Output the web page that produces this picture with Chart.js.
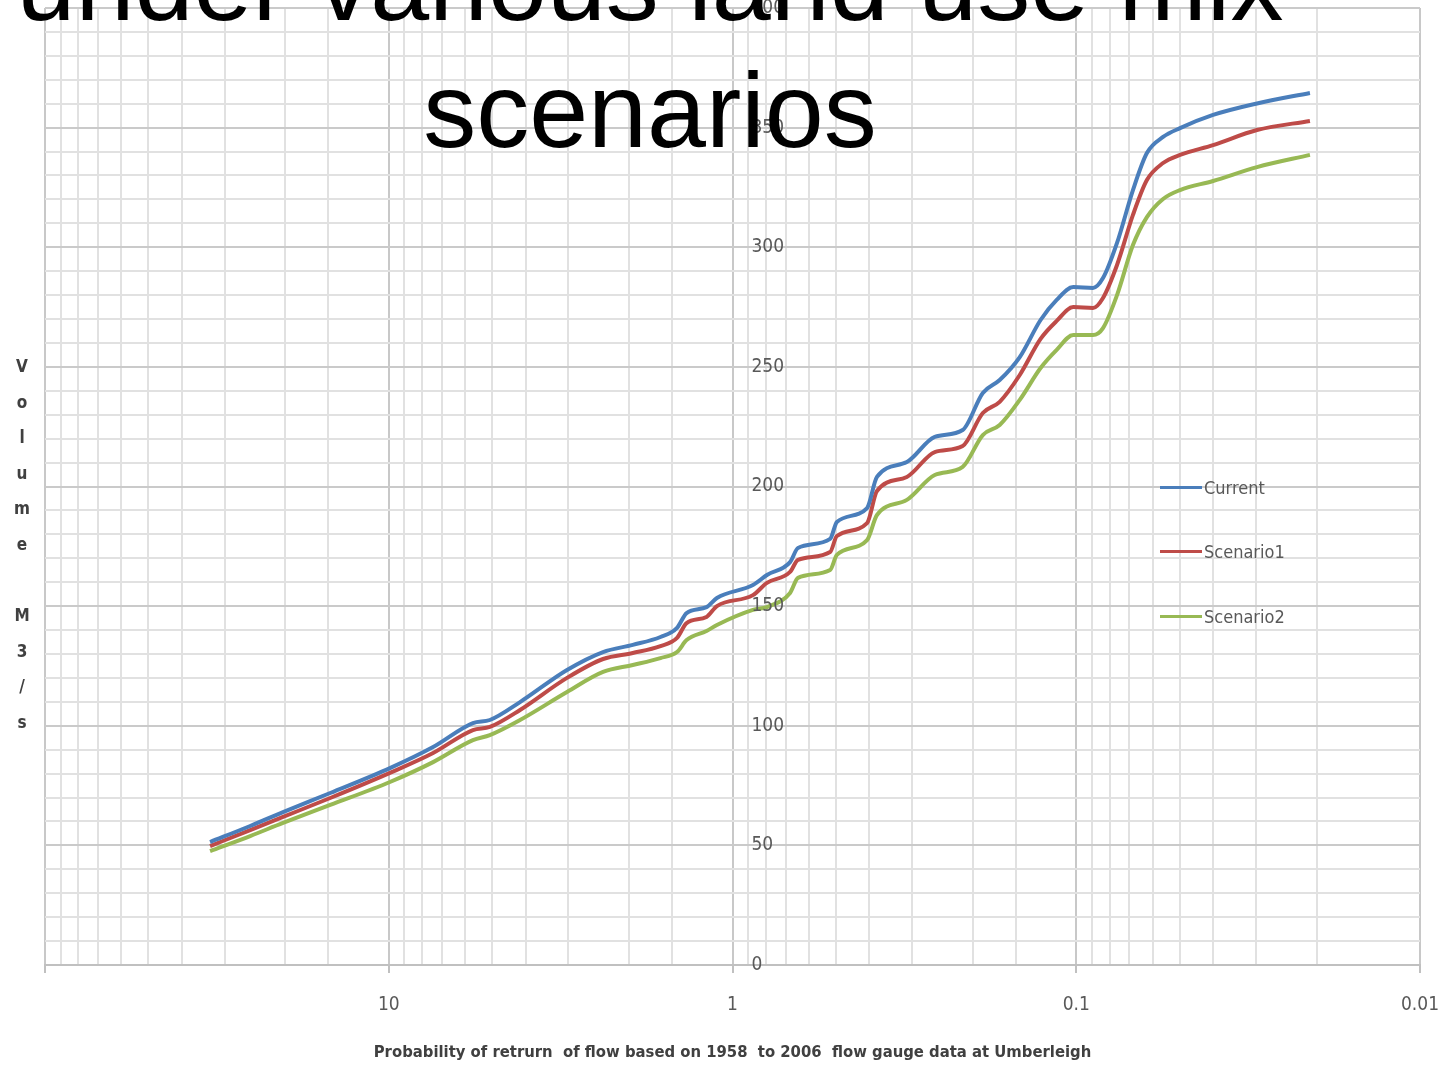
<!DOCTYPE html>
<html>
<head>
<meta charset="utf-8">
<script src="https://cdn.jsdelivr.net/npm/chart.js@4.4.1/dist/chart.umd.min.js"></script>
<style>
  html, body { margin: 0; padding: 0; background: #ffffff; }
  #wrap { position: relative; width: 1443px; height: 1066px; overflow: hidden; background: #ffffff; }
  #chart { position: absolute; left: 0; top: 0; }
  #title {
    position: absolute; left: 0; top: -80px; width: 1300px; text-align: center;
    font-family: "Liberation Sans", Arial, sans-serif; font-size: 106px; line-height: 127px;
    color: #000000; pointer-events: none; white-space: nowrap;
  }
  #ytitle {
    position: absolute; left: 0; top: 349px; width: 44px; text-align: center;
    font-family: "DejaVu Sans Condensed", "DejaVu Sans", sans-serif;
    font-weight: bold; font-size: 17px; line-height: 35.6px; color: #404040; pointer-events: none;
  }
  #legend { position: absolute; left: 1160px; top: 0; pointer-events: none; }
  .lg-item { position: absolute; left: 0; height: 26px; display: flex; align-items: center; white-space: nowrap;
    font-family: "DejaVu Sans Condensed", "DejaVu Sans", sans-serif; font-size: 18px; color: #595959; }
  .lg-line { width: 42px; height: 3px; margin-right: 2px; }
</style>
</head>
<body>
<div id="wrap">
  <canvas id="chart" width="1443" height="1066"></canvas>
  <div id="ytitle"></div>
  <div id="legend"></div>
  <div id="title"></div>
</div>
<script>
// ---- data ----
const probability = [33.1, 25.3, 20.3, 14.8, 9.92, 7.43, 5.69, 5.08, 4.15, 3.03, 2.38, 1.95, 1.62, 1.45, 1.36, 1.19, 1.11,
  0.872, 0.794, 0.680, 0.645, 0.520, 0.497, 0.406, 0.380, 0.311, 0.258, 0.214, 0.187, 0.167, 0.146, 0.127, 0.114, 0.102,
  0.0894, 0.0836, 0.0761, 0.0684, 0.0623, 0.0559, 0.0499, 0.0400, 0.0298, 0.0209];
const current = [51.4, 58.1, 63.9, 71.9, 82.3, 91.1, 101.1, 102.4, 109.9, 123.3, 130.8, 133.8, 137.1, 140.9, 147.1, 149.6, 153.4,
  158.8, 163.0, 168.4, 174.3, 178.1, 185.2, 191.0, 204.0, 210.2, 220.7, 223.6, 239.1, 244.5, 254.1, 269.6, 278.0, 283.4,
  283.0, 287.1, 301.8, 323.9, 339.4, 346.1, 349.8, 355.3, 360.1, 364.5];
const scenario1 = [49.7, 56.4, 61.9, 69.8, 80.3, 88.6, 98.2, 99.5, 106.6, 120.0, 127.9, 130.4, 133.3, 136.7, 142.9, 145.5, 150.0,
  154.6, 159.7, 164.3, 169.3, 172.6, 179.3, 184.7, 198.1, 204.0, 214.4, 216.9, 230.7, 235.4, 246.6, 261.7, 269.2, 275.0,
  274.6, 278.8, 292.6, 313.5, 328.1, 335.2, 338.6, 342.7, 349.0, 352.8];
const scenario2 = [47.6, 53.9, 59.4, 66.9, 76.5, 84.8, 94.0, 96.1, 102.4, 114.1, 122.5, 125.4, 128.3, 130.8, 135.8, 139.6, 142.1,
  148.4, 149.6, 155.5, 161.8, 165.1, 171.4, 177.6, 188.1, 194.4, 204.8, 208.2, 221.5, 225.7, 236.2, 249.5, 257.1, 263.3,
  263.3, 266.2, 280.0, 300.9, 312.6, 320.2, 323.9, 327.7, 333.5, 338.6];
const seriesNames = ['Current', 'Scenario1', 'Scenario2'];
const seriesColors = ['#4a7ebb', '#be4b48', '#98b954'];
const xTickValues = [10, 1, 0.1, 0.01];
const xTickLabels = ['10', '1', '0.1', '0.01'];
const yTickValues = [0, 50, 100, 150, 200, 250, 300, 350, 400];
const yTickLabels = ['0', '50', '100', '150', '200', '250', '300', '350', '400'];
const yAxisCrossesAt = 1;
const chartTitle = ['under various land use mix', 'scenarios'];
const xAxisTitle = 'Probability of retrurn  of flow based on 1958  to 2006  flow gauge data at Umberleigh';
const yAxisTitle = 'Volume M3/s';

// ---- helpers ----
const smallFont = '"DejaVu Sans Condensed", "DejaVu Sans", sans-serif';
const isDecade = v => { const e = Math.log10(v); return Math.abs(e - Math.round(e)) < 1e-9; };
const xLabelFor = v => { const i = xTickValues.findIndex(t => Math.abs(t - v) / t < 1e-6); return i >= 0 ? xTickLabels[i] : ''; };

document.getElementById('ytitle').innerHTML = yAxisTitle.split('').map(c => c === ' ' ? '&nbsp;' : c).join('<br>');
document.getElementById('title').innerHTML = chartTitle.join('<br>');

// legend
const legendRows = [487, 551, 616];
const legendEl = document.getElementById('legend');
seriesNames.forEach((n, i) => {
  const d = document.createElement('div');
  d.className = 'lg-item';
  d.style.top = (legendRows[i] - 13) + 'px';
  d.innerHTML = '<div class="lg-line" style="background:' + seriesColors[i] + '"></div><span>' + n + '</span>';
  legendEl.appendChild(d);
});

const series = [current, scenario1, scenario2];
const datasets = series.map((s, i) => ({
  label: seriesNames[i],
  data: probability.map((p, j) => ({ x: p, y: s[j] })),
  borderColor: seriesColors[i],
  backgroundColor: seriesColors[i],
  borderWidth: 4,
  pointRadius: 0,
  fill: false,
  cubicInterpolationMode: 'monotone'
}));

const yLabelPlugin = {
  id: 'yLabelsAtCrossing',
  afterDraw(chart) {
    const { ctx, scales } = chart;
    const px = scales.x.getPixelForValue(yAxisCrossesAt) + 19;
    ctx.save();
    ctx.font = '19px ' + smallFont;
    ctx.fillStyle = '#595959';
    ctx.textAlign = 'left';
    ctx.textBaseline = 'middle';
    yTickValues.forEach((v, i) => ctx.fillText(yTickLabels[i], px, scales.y.getPixelForValue(v)));
    ctx.restore();
  }
};

const bgPlugin = {
  id: 'bg',
  beforeDraw(chart) {
    const c = chart.ctx; c.save(); c.fillStyle = '#ffffff'; c.fillRect(0, 0, chart.width, chart.height); c.restore();
  }
};

new Chart(document.getElementById('chart'), {
  type: 'line',
  data: { datasets },
  plugins: [bgPlugin, yLabelPlugin],
  options: {
    responsive: false,
    animation: false,
    layout: { padding: { left: 45, right: 23, top: 8, bottom: 0 } },
    plugins: { legend: { display: false }, title: { display: false }, tooltip: { enabled: false } },
    scales: {
      x: {
        type: 'logarithmic', reverse: true, min: 0.01, max: 100,
        border: { display: true, color: '#c0c0c0', width: 2 },
        grid: {
          color: c => (c.tick && isDecade(c.tick.value)) ? '#c8c8c8' : '#e1e1e1',
          lineWidth: 2,
          drawTicks: true, tickLength: 8,
          tickColor: c => (c.tick && isDecade(c.tick.value)) ? '#c0c0c0' : 'rgba(0,0,0,0)'
        },
        ticks: {
          autoSkip: false, maxRotation: 0, minRotation: 0, padding: 0, color: '#595959',
          font: { family: smallFont, size: 19, lineHeight: '64px' },
          callback: v => xLabelFor(v)
        },
        title: {
          display: true, text: xAxisTitle, color: '#404040',
          font: { family: smallFont, size: 16.5, weight: 'bold', lineHeight: 1.2 },
          padding: { top: 6, bottom: 3.2 }
        }
      },
      y: {
        type: 'linear', min: 0, max: 400,
        border: { display: false },
        grid: {
          color: c => (c.tick && c.tick.value % 50 === 0) ? '#cacaca' : '#e1e1e1',
          lineWidth: 2, drawTicks: false
        },
        ticks: { stepSize: 10, display: false }
      }
    }
  }
});
</script>
</body>
</html>
